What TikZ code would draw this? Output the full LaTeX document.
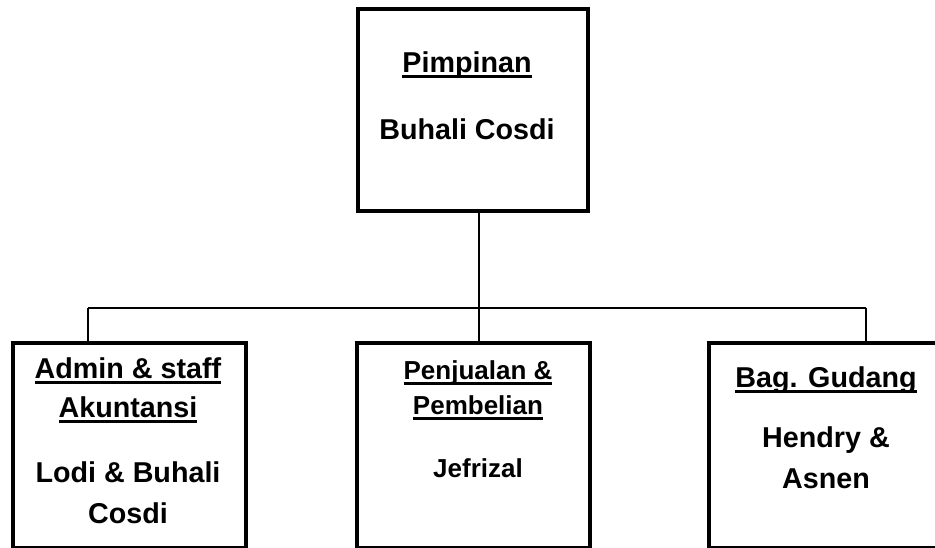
\documentclass[tikz,border=0pt]{standalone}
\usepackage{fontspec}
\setmainfont{Liberation Sans}
\newlength\ulw
\newcommand\ulbox[1]{\settowidth\ulw{#1}\rlap{\rule[-5.5pt]{\ulw}{3pt}}#1}
\tikzset{
  box/.style={draw, line width=4pt, inner sep=0pt, fill=white},
  conn/.style={line width=1.6pt},
  big/.style={font=\fontsize{28.7pt}{34pt}\selectfont\bfseries, inner sep=0pt, anchor=base},
  mid/.style={font=\fontsize{26pt}{31pt}\selectfont\bfseries, inner sep=0pt, anchor=base},
}
\begin{document}
\begin{tikzpicture}[x=1pt,y=-1pt]
\useasboundingbox (0,0) rectangle (935,548);
\clip (0,0) rectangle (935,548);
% boxes
\node[box, minimum width=230pt, minimum height=202pt] (top) at (473,110) {};
\node[box, minimum width=233pt, minimum height=205pt] (left) at (129.5,445.5) {};
\node[box, minimum width=233pt, minimum height=205pt] (middle) at (473.5,445.5) {};
\node[box, minimum width=236pt, minimum height=205pt] (right) at (827,445.5) {};
% connectors
\coordinate (hub) at (479,308);
\coordinate (hl) at (88,308);
\coordinate (hr) at (866,308);
\draw[conn] (top.south -| hub) -- (hub);
\draw[conn] (hl) -- (hr);
\draw[conn] (hl) -- (hl |- left.north);
\draw[conn] (hub) -- (hub |- middle.north);
\draw[conn] (hr) -- (hr |- right.north);
% texts
\node[big] (t1) at (467,73) {\ulbox{Pimpinan}};
\node[big] (t2) at (467,140) {Buhali Cosdi};
\node[big] (l1) at (128,378) {\ulbox{Admin \& staff}};
\node[big] (l2) at (128,417) {\ulbox{Akuntansi}};
\node[big] (l3) at (128,482) {Lodi \& Buhali};
\node[big] (l4) at (128,523) {Cosdi};
\node[mid] (m1) at (478,379) {\ulbox{Penjualan \&}};
\node[mid] (m2) at (478,414) {\ulbox{Pembelian}};
\node[mid] (m3) at (478,477) {Jefrizal};
\node[big] (r1) at (826,387) {\ulbox{Bag. Gudang}};
\node[big] (r2) at (826,447) {Hendry \&};
\node[big] (r3) at (826,488) {Asnen};
\end{tikzpicture}
\end{document}
